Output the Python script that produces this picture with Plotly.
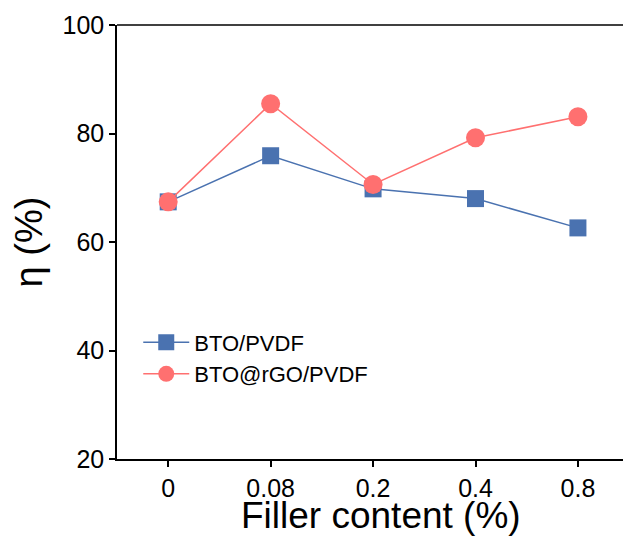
import plotly.graph_objects as go

categories = ["0", "0.08", "0.2", "0.4", "0.8"]
bto_pvdf = [67.4, 75.9, 69.8, 68.0, 62.6]
bto_rgo_pvdf = [67.4, 85.5, 70.6, 79.2, 83.1]
y_ticks = [20, 40, 60, 80, 100]

blue = "#4a72b0"
red = "#ff7070"

fig = go.Figure()
fig.add_trace(go.Scatter(
    x=categories, y=bto_pvdf, name="BTO/PVDF", mode="lines+markers",
    line=dict(color=blue, width=1.5),
    marker=dict(symbol="square", size=17, color=blue),
))
fig.add_trace(go.Scatter(
    x=categories, y=bto_rgo_pvdf, name="BTO@rGO/PVDF", mode="lines+markers",
    line=dict(color=red, width=1.5),
    marker=dict(symbol="circle", size=19, color=red),
))

font_family = "Liberation Sans, Arial, sans-serif"
fig.update_layout(
    width=624, height=536,
    margin=dict(l=117, r=1, t=25, b=77),
    plot_bgcolor="white", paper_bgcolor="white",
    font=dict(family=font_family, color="black"),
    showlegend=True,
    legend=dict(x=0.042, y=0.317, xanchor="left", yanchor="top",
                font=dict(size=22, family=font_family),
                itemwidth=46,
                bgcolor="rgba(0,0,0,0)", tracegroupgap=0),
    xaxis=dict(
        type="category", range=[-0.5, 4.44],
        showline=True, linecolor="black", linewidth=1.5, mirror=False,
        ticks="outside", ticklen=6, tickwidth=1.5, tickcolor="black",
        tickfont=dict(size=25), showgrid=False, zeroline=False,
    ),
    yaxis=dict(
        range=[20, 100], tickvals=y_ticks,
        showline=True, linecolor="black", linewidth=1.5,
        ticks="outside", ticklen=6, tickwidth=1.5, tickcolor="black",
        tickfont=dict(size=25), showgrid=False, zeroline=False,
        title=dict(text="η (%)", font=dict(size=38), standoff=8),
    ),
)
# x-axis title (placed as annotation to match the reference's offset)
fig.add_annotation(text="Filler content (%)", xref="paper", yref="paper",
                   x=(381 - 117) / 506, y=(459 - 515) / 434,
                   xanchor="center", yanchor="middle", showarrow=False,
                   font=dict(size=37, family=font_family, color="black"))
# top border line
fig.add_shape(type="line", xref="paper", yref="paper", x0=0, x1=1, y0=1, y1=1,
              line=dict(color="black", width=1.5))

fig.write_html("out.html")
